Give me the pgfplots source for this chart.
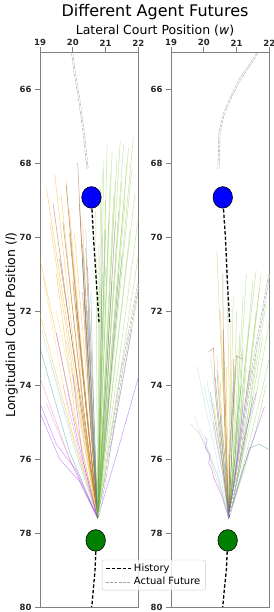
\documentclass[border=0pt]{standalone}
\usepackage{fontspec}
\setmainfont{DejaVu Sans}
\newfontfamily\tickfont{DejaVu Sans}
\usepackage{pgfplots}
\pgfplotsset{compat=1.18}
\definecolor{spine}{HTML}{808080}
\definecolor{cOr}{HTML}{FFA500}
\definecolor{cBr}{HTML}{8B4513}
\definecolor{cYl}{HTML}{FFD24D}
\definecolor{cCy}{HTML}{9ED9D3}
\definecolor{cLb}{HTML}{7FAFD8}
\definecolor{cTl}{HTML}{2E8B8B}
\definecolor{cPk}{HTML}{E377C2}
\definecolor{cPu}{HTML}{9B30FF}
\definecolor{cGr}{HTML}{8FCC4A}
\definecolor{cDg}{HTML}{3A9A3A}
\definecolor{cBl}{HTML}{4682B4}
\definecolor{cBe}{HTML}{D2B48C}
\definecolor{cGn}{HTML}{008000}
\newcommand\lgf{\fontsize{10bp}{12bp}\selectfont}
\pgfplotsset{
 panel/.style={
  scale only axis, width=98.3bp, height=555bp, anchor=south west,
  xmin=19, xmax=22, ymin=65, ymax=80, y dir=reverse,
  xtick={19,20,21,22}, ytick={66,68,70,72,74,76,78,80},
  xtick pos=top, xticklabel pos=top, ytick pos=left,
  tick align=outside, major tick length=5bp,
  axis line style={draw=spine, line width=0.9bp},
  every tick/.style={draw=spine, line width=0.9bp},
  tick label style={font={\fontsize{8.5bp}{10bp}\tickfont\bfseries}, text=black!85},
  xticklabel style={yshift=-2.6bp},
  /pgf/number format/assume math mode=true,
 },
 pr/.style={forget plot, line width=0.5bp, opacity=0.5},
 fut/.style={forget plot, draw=gray!70, double=white, double distance=0.9bp, line width=0.45bp, dash pattern=on 3bp off 1.2bp},
 hist/.style={forget plot, black, line width=1.3bp, dash pattern=on 3.5bp off 2bp},
 circ/.style={forget plot, only marks, mark=*, mark size=10.8bp, mark options={draw=black, line width=0.6bp, xscale=0.9, fill=#1}},
}
\begin{document}
\begin{tikzpicture}
\useasboundingbox (0,0) rectangle (274bp,612bp);
\node[anchor=base, font=\fontsize{16bp}{18bp}\selectfont] at (155bp,595bp) {Different Agent Futures};
\node[anchor=base, font=\fontsize{12.5bp}{14bp}\selectfont] at (155bp,577bp) {Lateral Court Position (\textit{w})};
\node[anchor=base, rotate=90, font=\fontsize{12.5bp}{14bp}\selectfont] at (15bp,287bp) {Longitudinal Court Position (\textit{l})};

% ---------------- left panel ----------------
\begin{axis}[panel, at={(40bp,5bp)}]
% orange
\addplot[pr,cOr] coordinates {(20.76,77.6)(20.2,74.5)(19.2,68.7)};
\addplot[pr,cOr] coordinates {(20.76,77.6)(20.2,74.3)(19.45,68.3)};
\addplot[pr,cOr] coordinates {(20.76,77.6)(20.3,74.6)(19.65,68.9)};
\addplot[pr,cOr] coordinates {(20.76,77.6)(20.45,74.9)(19.9,69.3)};
\addplot[pr,cOr] coordinates {(20.76,77.6)(20.0,74.7)(19.0,70.6)};
\addplot[pr,cOr] coordinates {(20.76,77.6)(20.15,74.5)(19.3,69.6)};
\addplot[pr,cOr] coordinates {(20.76,77.6)(20.3,74.4)(19.8,68.5)};
\addplot[pr,cOr] coordinates {(20.76,77.6)(20.55,74.7)(20.3,69.6)};
\addplot[pr,cOr] coordinates {(20.76,77.6)(19.95,75.2)(19.0,72.1)};
\addplot[pr,cOr] coordinates {(20.76,77.6)(20.1,75.0)(19.5,71.0)};
\addplot[pr,cOr] coordinates {(20.76,77.6)(20.5,74.6)(20.05,69.9)};
% brown
\addplot[pr,cBr] coordinates {(20.76,77.6)(20.25,74.6)(19.4,69.1)};
\addplot[pr,cBr] coordinates {(20.76,77.6)(20.35,74.8)(19.7,69.6)};
\addplot[pr,cBr] coordinates {(20.76,77.6)(20.5,74.4)(20.15,68.0)};
\addplot[pr,cBr] coordinates {(20.76,77.6)(20.45,74.8)(19.9,69.9)};
\addplot[pr,cBr] coordinates {(20.76,77.6)(20.6,74.6)(20.3,70.2)};
\addplot[pr,cBr] coordinates {(20.76,77.6)(20.35,75.0)(19.6,70.6)};
\addplot[pr,cBr] coordinates {(20.76,77.6)(20.55,74.5)(20.2,69.1)};
\addplot[pr,cBr] coordinates {(20.76,77.6)(20.65,74.9)(20.45,70.8)};
\addplot[pr,cBr] coordinates {(20.76,77.6)(20.45,75.0)(20.0,71.2)};
\addplot[pr,cBr] coordinates {(20.76,77.6)(20.4,74.6)(19.8,68.6)};
\addplot[pr,cBr] coordinates {(20.76,77.6)(20.6,75.0)(20.35,71.7)};
\addplot[pr,cBr] coordinates {(20.76,77.6)(20.55,75.2)(20.3,71.5)};
\addplot[pr,cBr] coordinates {(20.76,77.6)(20.5,75.4)(20.1,71.8)};
\addplot[pr,cBr] coordinates {(20.76,77.6)(20.6,74.8)(20.4,70.3)};
% gold
\addplot[pr,cYl] coordinates {(20.76,77.6)(20.0,75.4)(19.1,71.1)};
\addplot[pr,cYl] coordinates {(20.76,77.6)(20.3,75.4)(19.5,72.0)};
\addplot[pr,cYl] coordinates {(20.76,77.6)(20.45,75.0)(20.0,70.5)};
\addplot[pr,cYl] coordinates {(20.76,77.6)(20.4,75.6)(19.95,73.5)};
% cyan / light blue
\addplot[pr,cCy] coordinates {(20.76,77.6)(20.0,75.6)(19.05,72.5)};
\addplot[pr,cCy] coordinates {(20.76,77.6)(20.1,75.8)(19.3,73.3)};
\addplot[pr,cCy] coordinates {(20.76,77.6)(20.35,75.6)(19.8,72.8)};
\addplot[pr,cLb] coordinates {(20.76,77.6)(20.6,74.7)(20.4,69.8)};
\addplot[pr,cLb] coordinates {(20.76,77.6)(20.62,75.2)(20.5,72.3)};
\addplot[pr,cBl] coordinates {(20.76,77.6)(20.6,75.0)(20.45,72.0)};
% teal
\addplot[pr,cTl] coordinates {(20.76,77.6)(19.9,75.8)(19.0,73.0)};
\addplot[pr,cTl] coordinates {(20.76,77.6)(20.55,74.8)(20.3,70.6)};
\addplot[pr,cTl] coordinates {(20.76,77.6)(20.65,75.0)(20.55,71.5)};
% pink
\addplot[pr,cPk] coordinates {(20.76,77.6)(19.9,76.0)(19.0,73.8)};
\addplot[pr,cPk] coordinates {(20.76,77.6)(20.0,76.2)(19.2,74.5)};
\addplot[pr,cPk] coordinates {(20.76,77.6)(20.25,76.0)(19.7,74.0)};
% purple
\addplot[pr,cPu] coordinates {(20.76,77.6)(20.1,76.3)(19.5,75.6)(19.0,74.5)};
\addplot[pr,cPu] coordinates {(20.76,77.6)(20.2,76.6)(19.6,76.0)(19.0,74.75)};
\addplot[pr,cPu] coordinates {(20.76,77.6)(20.85,74.5)(20.9,70.0)};
\addplot[pr,cPu] coordinates {(20.76,77.6)(21.05,75.0)(21.4,71.0)};
\addplot[pr,cPu] coordinates {(20.76,77.6)(21.2,75.5)(21.8,72.5)};
\addplot[pr,cPu] coordinates {(20.76,77.6)(21.3,76.0)(22.0,73.8)};
\addplot[pr,cPu] coordinates {(20.76,77.6)(21.0,74.0)(21.3,69.6)};
\addplot[pr,cPu] coordinates {(20.76,77.6)(20.15,75.5)(19.5,72.6)};
\addplot[pr,cPu] coordinates {(20.76,77.6)(20.3,76.0)(20.0,73.7)};
\addplot[pr,cPu] coordinates {(20.76,77.6)(20.95,75.5)(21.15,72.7)};
% green
\addplot[pr,cGr] coordinates {(20.76,77.6)(20.7,69.3)};
\addplot[pr,cGr] coordinates {(20.76,77.6)(20.85,68.7)};
\addplot[pr,cGr] coordinates {(20.76,77.6)(20.95,67.9)};
\addplot[pr,cGr] coordinates {(20.76,77.6)(21.05,67.5)};
\addplot[pr,cGr] coordinates {(20.76,77.6)(21.15,68.3)};
\addplot[pr,cGr] coordinates {(20.76,77.6)(21.25,68.9)};
\addplot[pr,cGr] coordinates {(20.76,77.6)(21.35,67.9)};
\addplot[pr,cGr] coordinates {(20.76,77.6)(21.45,67.4)};
\addplot[pr,cGr] coordinates {(20.76,77.6)(21.5,68.5)};
\addplot[pr,cGr] coordinates {(20.76,77.6)(21.6,69.0)};
\addplot[pr,cGr] coordinates {(20.76,77.6)(21.7,67.6)};
\addplot[pr,cGr] coordinates {(20.76,77.6)(21.8,68.2)};
\addplot[pr,cGr] coordinates {(20.76,77.6)(21.9,68.8)};
\addplot[pr,cGr] coordinates {(20.76,77.6)(22.0,69.5)};
\addplot[pr,cGr] coordinates {(20.76,77.6)(21.0,69.0)};
\addplot[pr,cGr] coordinates {(20.76,77.6)(21.2,67.7)};
\addplot[pr,cGr] coordinates {(20.76,77.6)(21.4,69.3)};
\addplot[pr,cGr] coordinates {(20.76,77.6)(21.55,67.5)};
\addplot[pr,cGr] coordinates {(20.76,77.6)(21.75,69.8)};
\addplot[pr,cGr] coordinates {(20.76,77.6)(20.9,68.2)};
\addplot[pr,cGr] coordinates {(20.76,77.6)(21.1,69.6)};
\addplot[pr,cGr] coordinates {(20.76,77.6)(21.3,68.5)};
\addplot[pr,cGr] coordinates {(20.76,77.6)(21.65,68.0)};
\addplot[pr,cGr] coordinates {(20.76,77.6)(21.85,67.3)};
\addplot[pr,cGr] coordinates {(20.76,77.6)(22.0,70.5)};
\addplot[pr,cGr] coordinates {(20.76,77.6)(22.0,71.5)};
\addplot[pr,cGr] coordinates {(20.76,77.6)(20.8,70.2)};
\addplot[pr,cGr] coordinates {(20.76,77.6)(21.0,70.8)};
\addplot[pr,cDg] coordinates {(20.76,77.6)(21.0,69.8)};
\addplot[pr,cDg] coordinates {(20.76,77.6)(21.5,70.5)};
\addplot[pr,cDg] coordinates {(20.76,77.6)(21.2,71.2)};
\addplot[pr,cDg] coordinates {(20.76,77.6)(20.9,71.0)};
% actual futures
\addplot[fut] coordinates {(20.45,68.15)(20.35,67.3)(20.2,66.3)(20.05,65.5)(19.95,64.8)};
\addplot[fut] coordinates {(20.8,77.5)(21.0,76.5)(21.15,75.6)(21.5,73.6)(22.0,71.3)};
% histories
\addplot[hist] coordinates {(20.57,68.95)(20.63,70.0)(20.72,71.2)(20.8,72.3)};
\addplot[hist] coordinates {(20.72,78.2)(20.68,79.0)(20.63,79.5)(20.58,80.0)};
\addplot[circ=blue] coordinates {(20.57,68.93)};
\addplot[circ=cGn] coordinates {(20.7,78.2)};
\end{axis}

% ---------------- right panel ----------------
\begin{axis}[panel, at={(171bp,5bp)},
  legend style={at={(-0.702,0.085)}, anchor=north west, draw=gray!40, fill=white, fill opacity=0.8, text opacity=1, rounded corners=2bp, font=\lgf, inner xsep=3bp, inner ysep=2bp, row sep=0bp},
  legend cell align=left,
  legend image code/.code={\draw[#1] (0bp,0bp) -- (18bp,0bp); \path (0bp,0bp) -- (25bp,0bp);}]
\addlegendimage{black, line width=1.3bp, dash pattern=on 3.5bp off 2bp}
\addlegendentry{\lgf History}
\addlegendimage{draw=gray!70, double=white, double distance=0.9bp, line width=0.45bp, dash pattern=on 3bp off 1.2bp}
\addlegendentry{\lgf Actual Future}
% green
\addplot[pr,cGr] coordinates {(20.76,77.6)(20.95,76.0)(21.1,74.0)(21.3,71.0)};
\addplot[pr,cGr] coordinates {(20.76,77.6)(21.0,76.0)(21.2,74.0)(21.5,71.2)};
\addplot[pr,cGr] coordinates {(20.76,77.6)(21.05,76.0)(21.3,74.2)(21.7,71.4)};
\addplot[pr,cGr] coordinates {(20.76,77.6)(21.1,76.0)(21.45,74.3)(21.9,71.8)};
\addplot[pr,cGr] coordinates {(20.76,77.6)(21.15,76.1)(21.55,74.5)(22.0,72.3)};
\addplot[pr,cGr] coordinates {(20.76,77.6)(21.05,76.1)(21.3,74.5)(21.6,72.0)};
\addplot[pr,cGr] coordinates {(20.76,77.6)(20.95,76.0)(21.05,74.2)(21.2,71.6)};
\addplot[pr,cGr] coordinates {(20.76,77.6)(21.0,76.1)(21.2,74.3)(21.4,72.3)};
\addplot[pr,cGr] coordinates {(20.76,77.6)(21.1,76.1)(21.45,74.6)(21.8,72.7)};
\addplot[pr,cGr] coordinates {(20.76,77.6)(21.2,76.2)(21.6,74.8)(22.0,73.3)};
\addplot[pr,cGr] coordinates {(20.76,77.6)(20.9,76.0)(20.95,74.0)(21.0,72.0)};
\addplot[pr,cGr] coordinates {(20.76,77.6)(20.85,75.8)(20.85,73.8)(20.9,71.6)};
\addplot[pr,cGr] coordinates {(20.76,77.6)(20.95,76.0)(21.05,74.5)(21.1,72.6)};
\addplot[pr,cGr] coordinates {(20.76,77.6)(21.1,76.2)(21.35,74.8)(21.6,73.2)};
\addplot[pr,cGr] coordinates {(20.76,77.6)(20.8,75.5)(20.75,73.0)(20.7,70.9)};
\addplot[pr,cGr] coordinates {(20.76,77.6)(20.65,75.2)(20.5,72.5)(20.4,70.4)};
\addplot[pr,cGr] coordinates {(20.76,77.6)(21.2,76.4)(21.6,75.2)(21.9,74.0)};
\addplot[pr,cGr] coordinates {(20.76,77.6)(21.0,76.2)(21.15,75.0)(21.3,73.6)};
\addplot[pr,cGr] coordinates {(20.76,77.6)(21.1,76.0)(21.4,73.8)(21.75,71.0)};
\addplot[pr,cGr] coordinates {(20.76,77.6)(21.0,75.8)(21.25,73.5)(21.6,70.9)};
\addplot[pr,cGr] coordinates {(20.76,77.6)(20.9,76.0)(21.0,74.4)(21.05,73.0)};
\addplot[pr,cDg] coordinates {(20.76,77.6)(20.95,76.0)(21.1,74.5)(21.2,73.0)};
\addplot[pr,cDg] coordinates {(20.76,77.6)(20.85,76.0)(20.9,74.8)(20.95,73.5)};
\addplot[pr,cDg] coordinates {(20.76,77.6)(21.1,76.3)(21.3,75.3)(21.5,74.3)};
\addplot[pr,cDg] coordinates {(20.76,77.6)(20.9,76.2)(21.0,75.0)(21.15,74.0)};
% orange
\addplot[pr,cOr] coordinates {(20.76,77.6)(20.7,76.0)(20.6,74.0)(20.5,72.0)};
\addplot[pr,cOr] coordinates {(20.76,77.6)(20.7,76.0)(20.65,74.5)(20.6,72.8)};
\addplot[pr,cOr] coordinates {(20.76,77.6)(20.65,76.0)(20.5,74.5)(20.4,73.2)};
\addplot[pr,cOr] coordinates {(20.76,77.6)(20.75,76.0)(20.7,74.8)(20.7,73.5)};
\addplot[pr,cOr] coordinates {(20.76,77.6)(20.6,76.3)(20.45,75.4)(20.3,74.5)};
\addplot[pr,cOr] coordinates {(20.76,77.6)(20.8,75.8)(20.82,74.0)(20.8,72.3)};
\addplot[pr,cOr] coordinates {(20.76,77.6)(20.6,76.2)(20.55,75.0)(20.5,73.9)};
% brown
\addplot[pr,cBr] coordinates {(20.76,77.6)(20.65,75.5)(20.6,73.5)(20.58,71.0)};
\addplot[pr,cBr] coordinates {(20.76,77.6)(20.7,75.8)(20.65,74.2)(20.6,72.5)};
\addplot[pr,cBr] coordinates {(20.76,77.6)(20.85,76.0)(20.9,74.6)(20.9,73.3)};
\addplot[pr,cBr] coordinates {(20.76,77.6)(20.6,76.0)(20.45,74.8)(20.35,73.8)};
\addplot[pr,cBr] coordinates {(20.76,77.6)(20.5,75.5)(20.35,74.2)(20.3,73.0)(20.15,73.1)};
\addplot[pr,cBr] coordinates {(20.76,77.6)(20.8,75.5)(20.95,74.0)(21.0,73.2)(21.15,73.3)};
% cyan
\addplot[pr,cCy] coordinates {(20.76,77.6)(20.4,76.0)(20.1,74.8)(19.8,73.5)};
\addplot[pr,cCy] coordinates {(20.76,77.6)(20.5,76.0)(20.25,75.0)(20.0,74.0)};
\addplot[pr,cCy] coordinates {(20.76,77.6)(20.4,76.4)(20.0,75.6)(19.7,74.8)};
\addplot[pr,cCy] coordinates {(20.76,77.6)(20.6,76.0)(20.4,74.5)(20.2,73.3)};
\addplot[pr,cCy] coordinates {(20.76,77.6)(20.45,76.5)(20.15,75.8)(19.9,75.2)};
\addplot[pr,cCy] coordinates {(20.76,77.6)(20.55,76.2)(20.3,75.0)(20.1,73.9)};
% teal
\addplot[pr,cTl] coordinates {(20.76,77.6)(20.55,76.0)(20.35,75.0)(20.2,74.2)};
\addplot[pr,cTl] coordinates {(20.76,77.6)(20.65,76.0)(20.5,74.8)(20.4,73.6)};
\addplot[pr,cTl] coordinates {(20.76,77.6)(21.1,76.6)(21.4,75.7)(21.7,75.6)(22.0,75.75)};
% purple
\addplot[pr,cPu] coordinates {(20.76,77.6)(21.0,76.2)(21.2,74.9)(21.4,73.6)};
\addplot[pr,cPu] coordinates {(20.76,77.6)(21.05,76.3)(21.3,75.2)(21.6,74.2)};
\addplot[pr,cPu] coordinates {(20.76,77.6)(21.15,76.4)(21.5,75.5)(21.85,74.6)};
\addplot[pr,cPu] coordinates {(20.76,77.6)(20.95,76.4)(21.1,75.4)(21.2,74.5)};
\addplot[pr,cPu] coordinates {(20.76,77.6)(20.55,77.0)(20.3,76.5)(20.25,76.3)(20.15,76.1)(20.2,75.9)(20.05,75.7)(20.1,75.5)(20.05,75.4)};
\addplot[pr,cPu] coordinates {(20.76,77.6)(20.95,76.5)(21.05,75.8)(21.05,75.0)};
% others
\addplot[pr,cBl] coordinates {(20.76,77.6)(20.65,76.3)(20.55,75.5)(20.5,74.8)};
\addplot[pr,cBl] coordinates {(20.76,77.6)(20.8,76.0)(20.85,74.8)(20.9,73.9)};
\addplot[pr,cBe] coordinates {(20.76,77.6)(20.5,76.8)(20.3,76.3)(20.1,75.7)(19.85,75.3)(19.6,75.05)};
\addplot[pr,cPk] coordinates {(20.76,77.6)(20.6,76.5)(20.4,75.6)(20.3,75.0)};
% actual futures
\addplot[fut] coordinates {(20.45,68.16)(20.48,67.2)(20.6,66.7)(20.79,66.3)(21.09,65.76)(21.4,65.35)(21.64,65.03)};
\addplot[fut] coordinates {(20.8,77.5)(21.05,76.2)(21.3,74.6)(21.5,73.5)(22.0,71.0)};
% histories
\addplot[hist] coordinates {(20.58,68.95)(20.66,70.0)(20.72,71.2)(20.79,72.3)};
\addplot[hist] coordinates {(20.73,78.2)(20.69,79.0)(20.63,79.5)(20.58,80.0)};
\addplot[circ=blue] coordinates {(20.58,68.93)};
\addplot[circ=cGn] coordinates {(20.73,78.2)};
\end{axis}
\end{tikzpicture}
\end{document}
